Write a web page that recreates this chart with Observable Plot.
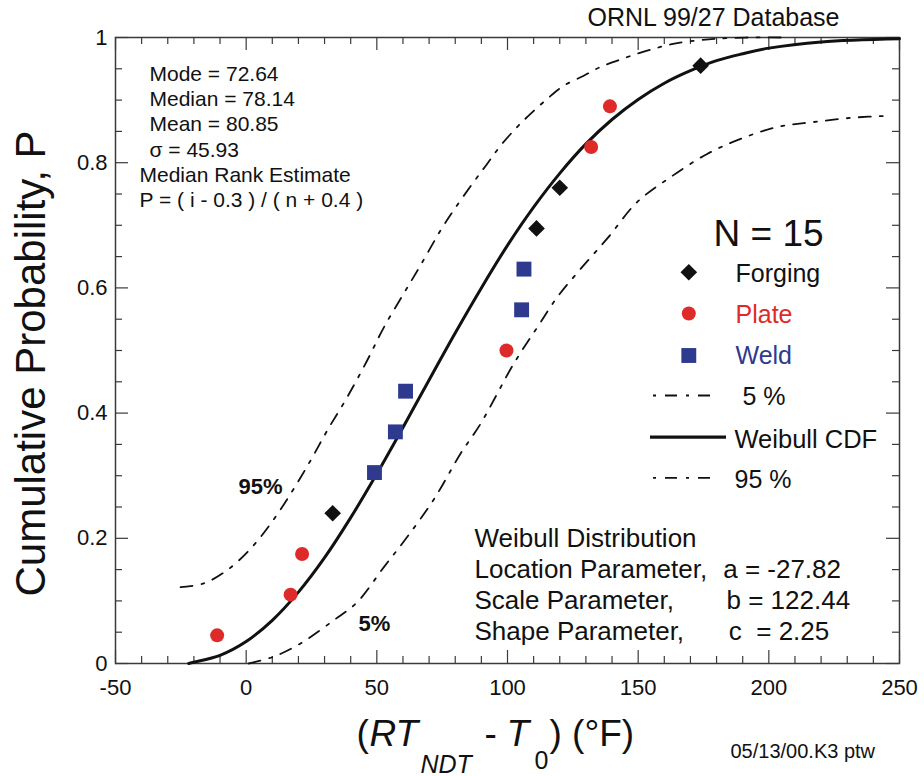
<!DOCTYPE html>
<html>
<head>
<meta charset="utf-8">
<script src="https://cdn.jsdelivr.net/npm/d3@7"></script>
<script src="https://cdn.jsdelivr.net/npm/@observablehq/plot@0.6"></script>
<style>
  html, body { margin: 0; padding: 0; background: #fff; }
  #chart { width: 924px; height: 776px; }
</style>
</head>
<body>
<div id="chart"></div>
<script>
// ---------- data ----------
const forgingX = [33.1, 111.1, 120.0, 173.9];
const forgingP = [0.240, 0.695, 0.760, 0.955];
const plateX = [-11.1, 17.0, 21.4, 99.6, 132.0, 139.2];
const plateP = [0.045, 0.110, 0.175, 0.500, 0.825, 0.890];
const weldX = [49.1, 57.1, 61.0, 105.4, 106.3];
const weldP = [0.305, 0.370, 0.435, 0.565, 0.630];

// Weibull CDF curve (solid)
const cdfX = [-22, -20, -10, 0, 10, 20, 30, 40, 50, 60, 70, 80, 90, 100, 110, 120, 130, 140, 150, 160, 170, 180, 190, 200, 220, 250];
const cdfP = [0, 0.002, 0.013, 0.035, 0.069, 0.114, 0.169, 0.233, 0.303, 0.377, 0.453, 0.528, 0.600, 0.668, 0.729, 0.783, 0.830, 0.869, 0.901, 0.927, 0.947, 0.963, 0.974, 0.983, 0.993, 0.998];

// 95% bound (upper-left dash-dot)
const upperX = [-25.1, -16.2, -7.3, 1.6, 9.3, 17.0, 24.6, 31.0, 38.6, 46.3, 52.7, 60.3, 66.7, 74.4, 79.4, 86.5, 92.2, 97.3, 103.7, 108.8, 115.2, 121.5, 129.2, 135.6, 142.0, 149.6, 156.0, 162.4, 170.0, 180.0, 192.0, 205.0];
const upperP = [0.122, 0.128, 0.149, 0.183, 0.223, 0.271, 0.324, 0.372, 0.425, 0.484, 0.537, 0.591, 0.636, 0.692, 0.724, 0.766, 0.798, 0.827, 0.857, 0.878, 0.902, 0.923, 0.939, 0.953, 0.963, 0.974, 0.982, 0.989, 0.994, 0.998, 1.0, 1.0];

// 5% bound (lower-right dash-dot)
const lowerX = [1.0, 10.6, 20.8, 33.5, 42.5, 52.7, 61.6, 71.8, 82.0, 89.7, 102.4, 111.4, 119.0, 127.9, 138.2, 149.6, 162.4, 176.4, 189.2, 203.2, 217.2, 232.5, 246.6];
const lowerP = [0.0, 0.011, 0.032, 0.069, 0.098, 0.154, 0.202, 0.262, 0.335, 0.383, 0.479, 0.537, 0.585, 0.630, 0.679, 0.737, 0.777, 0.814, 0.838, 0.857, 0.865, 0.872, 0.875];

// ticks
const xTicks = [-50, 0, 50, 100, 150, 200, 250];
const yTicks = [0, 0.2, 0.4, 0.6, 0.8, 1];
const xMinor = d3.range(-50, 251, 10).filter(v => v % 50 !== 0);
const yMinor = d3.range(0, 21).map(i => i / 20).filter(v => Math.round(v * 20) % 4 !== 0);

// texts
const statsLines = ["Mode = 72.64", "Median = 78.14", "Mean = 80.85", "\u03C3 = 45.93"];
const rankLines = ["Median Rank Estimate", "P = ( i - 0.3 ) / ( n + 0.4 )"];
const paramNames = ["Weibull Distribution", "Location Parameter,", "Scale Parameter,", "Shape Parameter,"];
const paramValues = ["", "a = -27.82", "b = 122.44", "c  = 2.25"];
const legendNames = ["Forging", "Plate", "Weld", " 5 %", "Weibull CDF", "95 %"];

// ---------- layout ----------
const W = 924, H = 776, ML = 115, MR = 25, MT = 37, MB = 113;
const FW = W - ML - MR, FH = H - MT - MB;
const RED = "#df2a2a", BLUE = "#2e3a8e", INK = "#111", FRAME = "#3a3a3a";
const DASHDOT = "12,9,3,9";

const rows = (xs, ps) => xs.map((x, i) => ({x, p: ps[i]}));

function txt(str, px, py, opts = {}) {
  return Plot.text([str], {
    frameAnchor: "top-left", dx: px - ML, dy: py - MT,
    text: d => d, textAnchor: "start", lineAnchor: "bottom",
    fontSize: 21, fill: INK, ...opts
  });
}
function sym(symbol, px, py, r, fill) {
  return Plot.dot([0], {frameAnchor: "top-left", dx: px - ML, dy: py - MT, symbol, r, fill, stroke: "none"});
}
const invX = px => -50 + (px - ML) * 300 / FW;
const invY = py => (H - MB - py) / FH;

const marks = [
  // minor & major inward ticks
  Plot.tickX(xMinor, {x: d => d, insetTop: FH - 7, stroke: FRAME, strokeWidth: 1.2}),
  Plot.tickX(xMinor, {x: d => d, insetBottom: FH - 7, stroke: FRAME, strokeWidth: 1.2}),
  Plot.tickX(xTicks, {x: d => d, insetTop: FH - 13, stroke: FRAME, strokeWidth: 1.2}),
  Plot.tickX(xTicks, {x: d => d, insetBottom: FH - 13, stroke: FRAME, strokeWidth: 1.2}),
  Plot.tickY(yMinor, {y: d => d, insetRight: FW - 7, stroke: FRAME, strokeWidth: 1.2}),
  Plot.tickY(yMinor, {y: d => d, insetLeft: FW - 7, stroke: FRAME, strokeWidth: 1.2}),
  Plot.tickY(yTicks, {y: d => d, insetRight: FW - 13, stroke: FRAME, strokeWidth: 1.2}),
  Plot.tickY(yTicks, {y: d => d, insetLeft: FW - 13, stroke: FRAME, strokeWidth: 1.2}),
  Plot.frame({stroke: FRAME, strokeWidth: 1.5}),

  Plot.axisX(xTicks, {tickSize: 0, tickPadding: 16, fontSize: 22, label: null, tickFormat: d => String(d), fill: INK}),
  Plot.axisY(yTicks, {tickSize: 0, tickPadding: 8, fontSize: 22, label: null, tickFormat: d => String(d), fill: INK}),

  // curves
  Plot.line(rows(upperX, upperP), {x: "x", y: "p", stroke: INK, strokeWidth: 1.8, strokeDasharray: DASHDOT, curve: "catmull-rom"}),
  Plot.line(rows(lowerX, lowerP), {x: "x", y: "p", stroke: INK, strokeWidth: 1.8, strokeDasharray: DASHDOT, curve: "catmull-rom"}),
  Plot.line(rows(cdfX, cdfP), {x: "x", y: "p", stroke: INK, strokeWidth: 3, curve: "catmull-rom"}),

  // data points
  Plot.dot(rows(plateX, plateP), {x: "x", y: "p", symbol: "circle", r: 7, fill: RED}),
  Plot.dot(rows(weldX, weldP), {x: "x", y: "p", symbol: "square", r: 8.4, fill: BLUE}),
  Plot.dot(rows(forgingX, forgingP), {x: "x", y: "p", symbol: "diamond2", r: 7.5, fill: INK}),

  // stats text block
  ...statsLines.map((s, i) => txt(s, 149, 80 + i * 25.4)),
  ...rankLines.map((s, i) => txt(s, 139, 181.5 + i * 25.4)),

  // bound labels
  txt("95%", 238, 493, {fontSize: 22, fontWeight: "bold"}),
  txt("5%", 358, 630, {fontSize: 22, fontWeight: "bold"}),

  // legend
  txt("N = 15", 713, 245, {fontSize: 37}),
  sym("diamond2", 688.3, 271.7, 7.5, INK),
  sym("circle", 688.3, 313, 7, RED),
  sym("square", 688.3, 355, 8.4, BLUE),
  txt(legendNames[0], 735, 281, {fontSize: 25}),
  txt(legendNames[1], 735, 322, {fontSize: 25, fill: RED}),
  txt(legendNames[2], 735, 363, {fontSize: 25, fill: BLUE}),
  txt(legendNames[3], 735, 404, {fontSize: 25}),
  txt(legendNames[4], 734, 447, {fontSize: 25.5}),
  txt(legendNames[5], 734, 487, {fontSize: 25}),
  Plot.ruleY([invY(395)], {x1: invX(653), x2: invX(715), stroke: INK, strokeWidth: 1.8, strokeDasharray: "3,9,12,9"}),
  Plot.ruleY([invY(436.7)], {x1: invX(650), x2: invX(726), stroke: INK, strokeWidth: 3.2}),
  Plot.ruleY([invY(477.3)], {x1: invX(653), x2: invX(715), stroke: INK, strokeWidth: 1.8, strokeDasharray: "3,9,12,9"}),

  // Weibull parameter box
  ...paramNames.map((s, i) => txt(s, 474, 546.7 + i * 30.8, {fontSize: 26})),
  ...paramValues.map((s, i) => txt(s, [0, 722.7, 726, 728.3][i], 546.7 + i * 30.8, {fontSize: 26})),

  // top-right title and footer stamp
  txt("ORNL 99/27 Database", 587, 25, {fontSize: 25}),
  txt("05/13/00.K3 ptw", 730, 757, {fontSize: 20}),

  // x-axis title with italics and subscripts
  txt("(", 356, 745, {fontSize: 37}),
  txt("RT", 369, 745, {fontSize: 37, fontStyle: "italic"}),
  txt("NDT", 420, 772, {fontSize: 25, fontStyle: "italic"}),
  txt("-", 484, 745, {fontSize: 37}),
  txt("T", 506, 745, {fontSize: 37, fontStyle: "italic"}),
  txt("0", 534, 768, {fontSize: 25}),
  txt(") (\u00B0F)", 549, 745, {fontSize: 37}),

  // y-axis title
  Plot.text(["Cumulative Probability, P"], {
    frameAnchor: "left", dx: 31 - ML, dy: 363 - (MT + FH / 2),
    text: d => d, rotate: -90, textAnchor: "middle", lineAnchor: "middle",
    fontSize: 42, fill: INK
  })
];

const chart = Plot.plot({
  width: W, height: H,
  marginLeft: ML, marginRight: MR, marginTop: MT, marginBottom: MB,
  x: {domain: [-50, 250]},
  y: {domain: [0, 1]},
  style: {fontFamily: "'Liberation Sans', Arial, Helvetica, sans-serif", fontSize: "22px", color: INK, background: "#fff", overflow: "visible"},
  marks
});
document.getElementById("chart").appendChild(chart);
</script>
</body>
</html>
